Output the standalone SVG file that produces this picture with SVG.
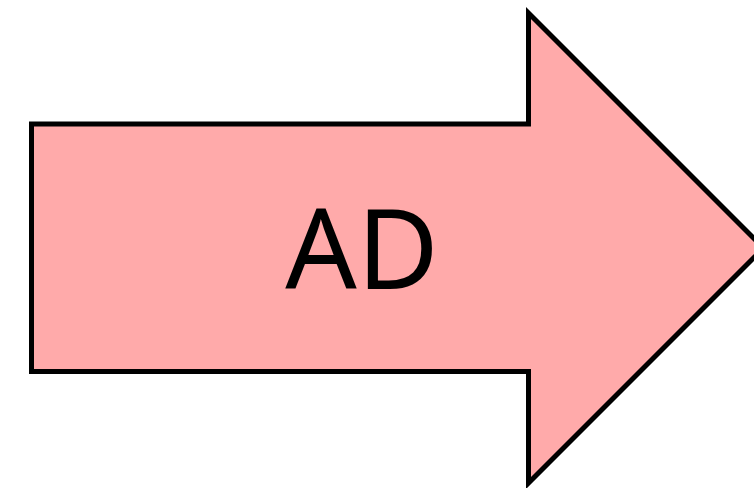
<svg xmlns="http://www.w3.org/2000/svg" width="754" height="488" viewBox="0 0 754 488">
<style>
.shape{fill:#ffaaaa;stroke:#000;stroke-width:5;stroke-miterlimit:10}
.label{font-family:"Noto Sans","Liberation Sans",sans-serif;font-size:112px;fill:#000;text-anchor:middle}
</style>
<rect width="754" height="488" fill="#fff"/>
<g id="arrow">
<path class="shape" d="M31.5,124 L528.5,124 L528.5,13 L763.5,248 L528.5,483 L528.5,371.5 L31.5,371.5 Z"/>
<text class="label" x="362" y="289">AD</text>
</g>
<g id="connectors"/>
</svg>
